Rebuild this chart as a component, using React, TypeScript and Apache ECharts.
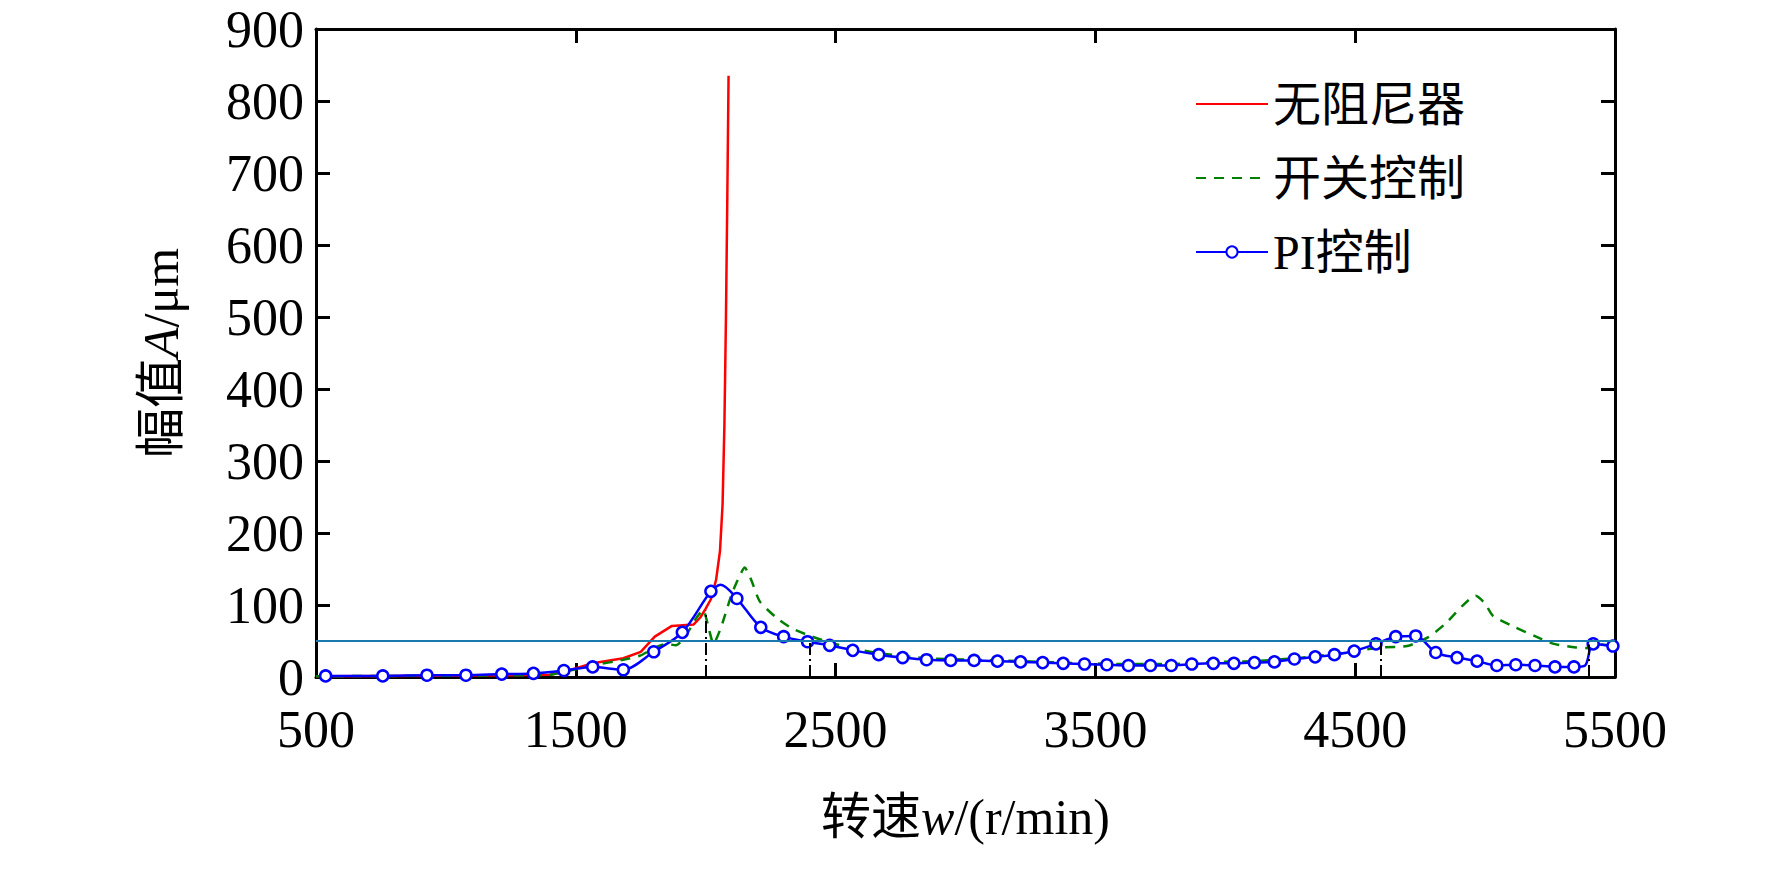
import React, { useEffect, useRef } from "react";
import * as echarts from "echarts";

const xTicks = [500, 1500, 2500, 3500, 4500, 5500];
const yTicks = [0, 100, 200, 300, 400, 500, 600, 700, 800, 900];
const legendNames = ["无阻尼器", "开关控制", "PI控制"];

const redX = [500, 800, 1100, 1400, 1454, 1565, 1683, 1750, 1804, 1870, 1954, 1980, 2000, 2020, 2040, 2055, 2065, 2072, 2078, 2083, 2088];
const redY = [1, 1.5, 2, 3, 7, 19, 26, 35, 56, 71, 73, 83, 95, 108, 135, 175, 240, 350, 500, 660, 835];

const greenX = [500, 800, 1100, 1400, 1454, 1565, 1683, 1750, 1800, 1850, 1885, 1920, 1960, 1990, 2010, 2030, 2060, 2100, 2130, 2150, 2175, 2208, 2270, 2330, 2395, 2477, 2566, 2666, 2850, 3033, 3212, 3458, 3627, 3792, 3954, 4112, 4266, 4420, 4520, 4600, 4700, 4780, 4850, 4910, 4964, 5000, 5030, 5110, 5190, 5265, 5350, 5400, 5416, 5492];
const greenY = [1, 1.5, 2, 3, 7, 16, 24, 30, 40, 46, 44, 55, 80, 93, 70, 46, 70, 115, 140, 152, 135, 105, 83, 68, 58, 48, 40, 33, 26, 24, 22, 19, 18, 18, 21, 22, 26, 32, 37, 41, 43, 55, 75, 98, 113, 102, 85, 70, 57, 46, 41, 40, 46, 43];

const blueX = [537, 757, 927, 1077, 1215, 1337, 1454, 1565, 1683, 1800, 1910, 2020, 2058, 2120, 2212, 2300, 2392, 2477, 2566, 2666, 2758, 2850, 2943, 3033, 3123, 3212, 3297, 3376, 3458, 3544, 3627, 3712, 3792, 3871, 3954, 4033, 4112, 4189, 4266, 4346, 4420, 4496, 4580, 4656, 4733, 4810, 4892, 4969, 5045, 5118, 5192, 5269, 5342, 5385, 5416, 5492];
const blueY = [1.5, 1.5, 2.5, 2.5, 4, 5, 9, 14, 10, 35, 62, 119, 128, 109, 69, 56, 49, 44, 37, 31, 27, 24, 23, 23, 22, 21, 20, 19, 18, 17, 16, 16, 16, 18, 19, 19, 20, 21, 25, 28, 31, 36, 46, 56, 57, 34, 27, 22, 16, 17, 16, 14, 14, 16, 46, 43];
const blueMarkerSkip = [12, 53];

const refLevel = 50;
const vLinesX = [2000, 2400, 4600, 5400];
const vLinesTop = [92, 50, 50, 45];

const font = "'Liberation Serif', 'Times New Roman', 'Noto Sans CJK SC', serif";

export default function App() {
  const ref = useRef<HTMLDivElement>(null);
  useEffect(() => {
    const chart = echarts.init(ref.current!, undefined, { renderer: "svg" });
    const zip = (xs: number[], ys: number[]) => xs.map((x, i) => [x, ys[i]]);
    const blueData = blueX.map((x, i) => ({
      value: [x, blueY[i]],
      symbol: blueMarkerSkip.includes(i) ? "none" : "circle",
    }));
    const axisCommon = {
      type: "value",
      axisLine: { show: true, onZero: false, lineStyle: { color: "#000", width: 3 } },
      axisTick: { show: true, inside: true, length: 14, lineStyle: { color: "#000", width: 3 } },
      splitLine: { show: false },
    };
    const rich = {
      a: { fontFamily: font, fontSize: 50, color: "#000" },
      i: { fontFamily: font, fontSize: 50, color: "#000", fontStyle: "italic" },
    };
    chart.setOption({
      animation: false,
      backgroundColor: "#fff",
      grid: { left: 316, right: 157, top: 29, bottom: 203 },
      legend: {
        orient: "vertical",
        left: 1190,
        top: 74,
        itemWidth: 72,
        itemHeight: 14,
        itemGap: 24,
        data: [
          { name: legendNames[0], itemStyle: { opacity: 0 } },
          { name: legendNames[1], itemStyle: { opacity: 0 } },
          { name: legendNames[2] },
        ],
        textStyle: { fontFamily: font, fontSize: 48, color: "#000", lineHeight: 50 },
      },
      xAxis: [
        {
          ...axisCommon,
          min: 500, max: 5500, interval: 1000,
          axisLabel: { fontFamily: font, fontSize: 52, color: "#000", margin: 26,
            formatter: (v: number) => (xTicks.includes(v) ? String(v) : "") },
          name: "{a|转速}{i|w}{a|/(r/min)}",
          nameLocation: "middle",
          nameGap: 115,
          nameTextStyle: { rich },
        },
        { ...axisCommon, position: "top", min: 500, max: 5500, interval: 1000, axisLabel: { show: false } },
      ],
      yAxis: [
        {
          ...axisCommon,
          min: 0, max: 900, interval: 100,
          axisLabel: { fontFamily: font, fontSize: 52, color: "#000", margin: 12,
            formatter: (v: number) => (yTicks.includes(v) ? String(v) : "") },
          name: "{a|幅值}{i|A}{a|/μm}",
          nameLocation: "middle",
          nameGap: 130,
          nameRotate: 90,
          nameTextStyle: { rich },
        },
        { ...axisCommon, position: "right", min: 0, max: 900, interval: 100, axisLabel: { show: false } },
      ],
      series: [
        {
          name: legendNames[0], type: "line", data: zip(redX, redY), symbol: "none",
          lineStyle: { color: "#ff0000", width: 2.5 }, itemStyle: { color: "#ff0000" },
        },
        {
          name: legendNames[1], type: "line", data: zip(greenX, greenY), symbol: "none", smooth: 0.2,
          lineStyle: { color: "#008000", width: 2.5, type: [10, 8] }, itemStyle: { color: "#008000" },
        },
        {
          name: legendNames[2], type: "line", data: blueData, symbol: "circle", symbolSize: 11, smooth: 0.3,
          lineStyle: { color: "#0000ff", width: 2.5 },
          itemStyle: { color: "#ffffff", borderColor: "#0000ff", borderWidth: 2.5 },
          markLine: {
            silent: true, symbol: "none", label: { show: false },
            data: [
              [{ coord: [500, refLevel], lineStyle: { color: "#1a7ab0", width: 2, type: "solid" } }, { coord: [5500, refLevel] }],
              ...vLinesX.map((x, i) => [
                { coord: [x, 0], lineStyle: { color: "#000", width: 2, type: [12, 4, 2, 4] } },
                { coord: [x, vLinesTop[i]] },
              ]),
            ],
          },
        },
      ],
    });
    return () => chart.dispose();
  }, []);
  return <div ref={ref} style={{ width: 1772, height: 880, margin: -8 }} />;
}
